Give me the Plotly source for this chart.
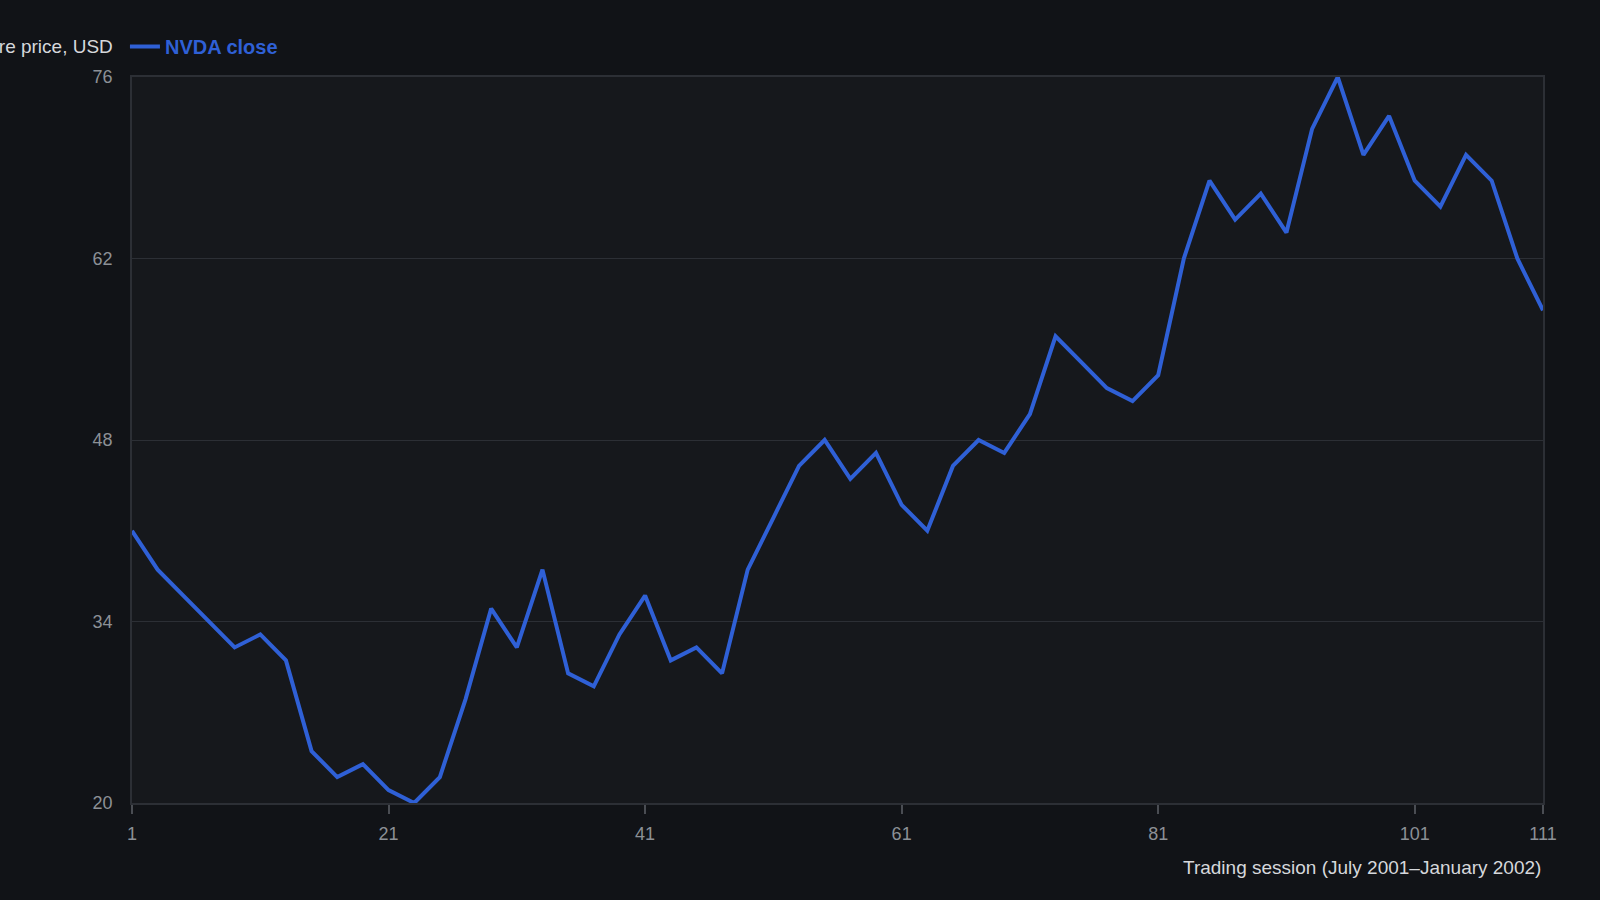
import plotly.graph_objects as go

# NVDA closing price, every second trading session (Jul 2001 - Jan 2002)
sessions = [1, 3, 5, 7, 9, 11, 13, 15, 17, 19, 21, 23, 25, 27, 29, 31, 33, 35, 37, 39,
            41, 43, 45, 47, 49, 51, 53, 55, 57, 59, 61, 63, 65, 67, 69, 71, 73, 75, 77, 79,
            81, 83, 85, 87, 89, 91, 93, 95, 97, 99, 101, 103, 105, 107, 109, 111]
close_usd = [41, 38, 36, 34, 32, 33, 31, 24, 22, 23, 21, 20, 22, 28, 35, 32, 38, 30, 29, 33,
             36, 31, 32, 30, 38, 42, 46, 48, 45, 47, 43, 41, 46, 48, 47, 50, 56, 54, 52, 51,
             53, 62, 68, 65, 67, 64, 72, 76, 70, 73, 68, 66, 70, 68, 62, 58]

x_ticks = [1, 21, 41, 61, 81, 101, 111]
y_ticks = [20, 34, 48, 62, 76]

LINE_BLUE = "#2f60d6"
GRID = "#2c2f35"
TICK_GREY = "#8c9096"
PAGE_BG = "#111317"

fig = go.Figure()
fig.add_trace(go.Scatter(x=sessions, y=close_usd, mode="lines", name="NVDA close",
                         line=dict(color=LINE_BLUE, width=4)))

fig.update_layout(
    width=1600, height=900,
    paper_bgcolor=PAGE_BG, plot_bgcolor="#16181c",
    font=dict(family="Liberation Sans, Arial, sans-serif", size=18, color=TICK_GREY),
    margin=dict(l=132, r=57, t=77, b=97),
    showlegend=True,
    legend=dict(orientation="h", x=-0.005, xanchor="left", y=1.042, yanchor="middle",
                font=dict(size=20, color=LINE_BLUE, weight="bold"),
                bgcolor="rgba(0,0,0,0)", itemwidth=30, tracegroupgap=0),
    annotations=[
        # y-axis title sits horizontally above the axis, running off the left edge
        dict(text="Share price, USD", xref="paper", yref="paper", x=0, y=1.042,
             xanchor="right", yanchor="middle", xshift=-17, showarrow=False,
             font=dict(size=19, color="#d6d8dc")),
        dict(text="Trading session (July 2001–January 2002)", xref="paper", yref="paper",
             x=1, y=0, xanchor="right", yanchor="top", yshift=-52, showarrow=False,
             font=dict(size=19, color="#d6d8dc")),
    ],
)

fig.update_xaxes(range=[1, 111], tickvals=x_ticks, showgrid=False, zeroline=False,
                 showline=True, linecolor=GRID, linewidth=1.5, mirror=True,
                 ticks="outside", ticklen=9, tickcolor="#4a4d53", tickwidth=1.5,
                 ticklabelstandoff=5, tickfont=dict(size=18, color=TICK_GREY))
fig.update_yaxes(range=[20, 76], tickvals=y_ticks, showgrid=True, gridcolor=GRID,
                 gridwidth=1, zeroline=False, showline=True, linecolor=GRID,
                 linewidth=1.5, mirror=True, ticks="", ticklabelstandoff=14,
                 tickfont=dict(size=18, color=TICK_GREY))

# drop the default page margin so the dark figure fills the window
page_css = ("document.body.style.margin='0';document.body.style.overflow='hidden';"
            "document.body.style.background='" + PAGE_BG + "';")
fig.write_html("out.html", config={"displayModeBar": False}, post_script=page_css)
